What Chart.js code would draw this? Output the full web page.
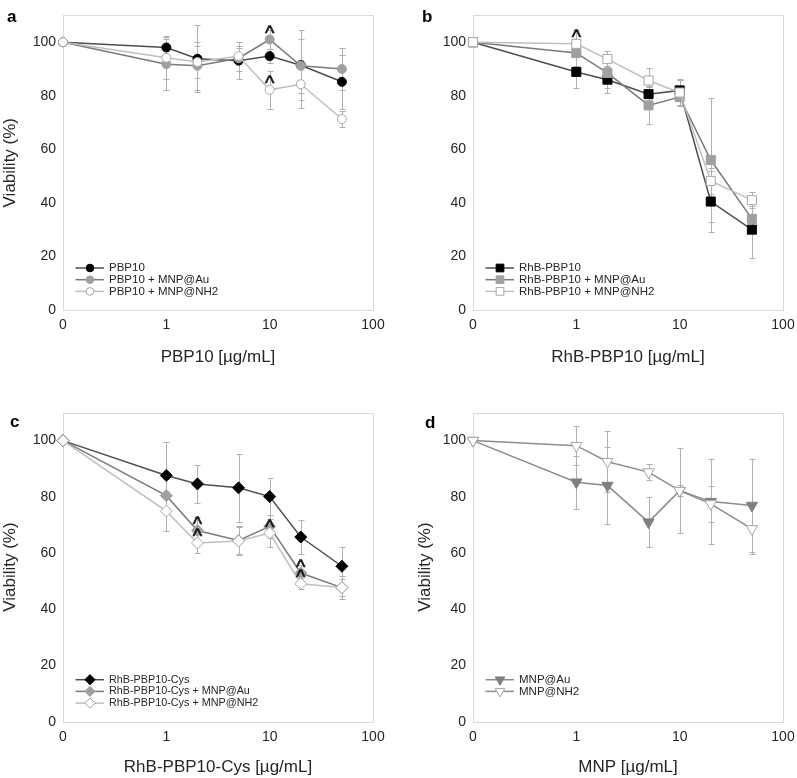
<!DOCTYPE html>
<html>
<head>
<meta charset="utf-8">
<script src="https://cdn.jsdelivr.net/npm/chart.js@4.4.1/dist/chart.umd.min.js"></script>
<style>
  body { margin: 0; background: #fff; width: 797px; height: 778px; position: relative; overflow: hidden; }
  canvas { position: absolute; }
</style>
</head>
<body>
<canvas id="chartA" width="398" height="390" style="left:0;top:0"></canvas>
<canvas id="chartB" width="410" height="390" style="left:398px;top:0"></canvas>
<canvas id="chartC" width="398" height="388" style="left:0;top:390px"></canvas>
<canvas id="chartD" width="410" height="388" style="left:398px;top:390px"></canvas>
<script>
// concentrations (µg/mL), 0 is drawn at the axis start
const concentrations = [0, 1, 2, 5, 10, 20, 50];
const xTicks = [0.1, 1, 10, 100];
const xTickLabels = ['0', '1', '10', '100'];
const yTicks = [0, 20, 40, 60, 80, 100];

// panel a
const pbp10 = [100, 98, 93.8, 93.1, 94.8, 91.4, 85.2];
const pbp10Err = [0, 4, 12.5, 6.8, 2.5, 13, 10];
const pbp10Au = [100, 91.8, 91.2, 94, 101, 91.2, 90];
const pbp10AuErr = [0, 9.5, 9, 4.6, 3.5, 10, 7.7];
const pbp10NH2 = [100, 94.2, 92.6, 94.8, 82.2, 84.3, 71.3];
const pbp10NH2Err = [0, 8, 6, 3, 7, 9, 3];

// panel b
const rhb = [100, 88.9, 86, 80.6, 82, 40.5, 30];
const rhbErr = [0, 6, 5, 3, 4, 11.5, 10.5];
const rhbAu = [100, 96, 88.5, 76.4, 79.5, 56, 34];
const rhbAuErr = [0, 5, 5.5, 7, 3, 23, 5];
const rhbNH2 = [100, 99.4, 93.7, 85.7, 81.2, 48.2, 41];
const rhbNH2Err = [0, 5, 3, 4.8, 5, 5, 3];

// panel c
const cys = [100, 87.6, 84.6, 83.2, 80.1, 65.7, 55.3];
const cysErr = [0, 11.8, 6.7, 12, 6.6, 6, 7];
const cysAu = [100, 80.4, 68, 64.5, 69.5, 52.9, 47.7];
const cysAuErr = [0, 6, 5, 5, 4, 3, 3];
const cysNH2 = [100, 74.9, 63.6, 64.3, 67.1, 49.1, 47.7];
const cysNH2Err = [0, 7, 3.5, 5, 5, 2, 4];

// panel d
const mnpAu = [100, 85.2, 84, 71, 82.2, 78.3, 76.9];
const mnpAuErr = [0, 9.5, 13.6, 9, 15, 15, 16.4];
const mnpNH2 = [100, 98.2, 92.5, 88.8, 82.2, 77.5, 68.6];
const mnpNH2Err = [0, 7, 10.8, 2.9, 2, 6.5, 9];

Chart.defaults.font.family = "'Liberation Sans', Arial, sans-serif";
Chart.defaults.color = '#262626';

const TEXT = '#262626';

// series looks
const black = { fill: '#000000', edge: '#000000', line: '#4d4d4d' };
const grey = { fill: '#a0a0a0', edge: '#a0a0a0', line: '#7a7a7a' };
const white = { fill: '#ffffff', edge: '#a6a6a6', line: '#bfbfbf' };
const darkGrey = { fill: '#808080', edge: '#808080', line: '#8c8c8c' };
const whiteTri = { fill: '#ffffff', edge: '#a6a6a6', line: '#8c8c8c' };

// plot frame + error bars under the lines
const frameAndErrors = {
  id: 'frameAndErrors',
  beforeDatasetsDraw(chart) {
    const { ctx, chartArea: a, scales: { x, y } } = chart;
    ctx.save();
    ctx.strokeStyle = '#d9d9d9';
    ctx.lineWidth = 1;
    ctx.strokeRect(Math.round(a.left) + 0.5, Math.round(a.top) + 0.5,
      Math.round(a.right - a.left), Math.round(a.bottom - a.top));
    ctx.strokeStyle = '#b0b0b0';
    chart.data.datasets.forEach(ds => {
      ds.data.forEach((p, i) => {
        const e = ds.errors[i];
        if (!e) return;
        const px = Math.round(x.getPixelForValue(p.x)) + 0.5;
        const top = Math.round(y.getPixelForValue(p.y + e)) + 0.5;
        const bot = Math.round(y.getPixelForValue(p.y - e)) + 0.5;
        ctx.beginPath();
        ctx.moveTo(px, top); ctx.lineTo(px, bot);
        ctx.moveTo(px - 3, top); ctx.lineTo(px + 3, top);
        ctx.moveTo(px - 3, bot); ctx.lineTo(px + 3, bot);
        ctx.stroke();
      });
    });
    ctx.restore();
  }
};

// "^" significance marks, legend inside the plot, panel letter
const extras = {
  id: 'extras',
  afterDraw(chart, args, opts) {
    const { ctx, chartArea: a, scales: { x, y } } = chart;
    ctx.save();
    ctx.fillStyle = '#1a1a1a';
    ctx.strokeStyle = '#1a1a1a';
    ctx.lineWidth = 0.6;
    ctx.font = "20px 'Liberation Sans', Arial, sans-serif";
    ctx.textAlign = 'center';
    ctx.textBaseline = 'alphabetic';
    opts.marks.forEach(([di, pi]) => {
      const p = chart.data.datasets[di].data[pi];
      const mx = x.getPixelForValue(p.x), my = y.getPixelForValue(p.y) + 0.5;
      ctx.fillText('^', mx, my);
      ctx.strokeText('^', mx, my);
    });

    chart.data.datasets.forEach((ds, i) => {
      const ly = a.bottom - 42 + i * 11.7;
      ctx.strokeStyle = ds.borderColor;
      ctx.lineWidth = ds.borderWidth;
      ctx.beginPath();
      ctx.moveTo(a.left + 12.5, ly);
      ctx.lineTo(a.left + 41, ly);
      ctx.stroke();
      ctx.fillStyle = ds.pointBackgroundColor;
      ctx.strokeStyle = ds.pointBorderColor;
      ctx.lineWidth = 1;
      Chart.helpers.drawPoint(ctx, {
        pointStyle: ds.pointStyle, radius: ds.pointRadius * 0.85,
        rotation: ds.pointRotation || 0, borderWidth: 1
      }, a.left + 27, ly);
      ctx.fillStyle = TEXT;
      ctx.font = opts.legendSize + "px 'Liberation Sans', Arial, sans-serif";
      ctx.textAlign = 'left';
      ctx.textBaseline = 'middle';
      ctx.fillText(ds.label, a.left + 46, ly);
    });

    ctx.fillStyle = '#000';
    ctx.font = "bold 17px 'Liberation Sans', Arial, sans-serif";
    ctx.textAlign = 'left';
    ctx.textBaseline = 'alphabetic';
    ctx.fillText(opts.letter, opts.letterX, opts.letterY);
    ctx.restore();
  }
};

const series = (label, values, errors, look, style, radius, rotation) => ({
  label: label,
  data: concentrations.map((c, i) => ({ x: Math.max(c, 0.1), y: values[i] })),
  errors: errors,
  borderColor: look.line,
  borderWidth: 1.5,
  pointBackgroundColor: look.fill,
  pointBorderColor: look.edge,
  pointBorderWidth: 1,
  pointStyle: style,
  pointRadius: radius,
  pointRotation: rotation || 0,
  clip: false,
  tension: 0
});

const panelChart = (id, p) => {
  p.datasets.forEach((ds, i) => { ds.order = p.datasets.length - i; });
  return new Chart(document.getElementById(id), {
    type: 'line',
    data: { datasets: p.datasets },
    plugins: [frameAndErrors, extras],
    options: {
      responsive: false,
      animation: false,
      devicePixelRatio: 1,
      layout: { padding: { top: p.top, right: p.right, left: 0, bottom: 0 } },
      plugins: {
        legend: { display: false },
        tooltip: { enabled: false },
        extras: {
          marks: p.marks, letter: p.letter, letterX: p.letterX, letterY: p.letterY,
          legendSize: p.legendSize
        }
      },
      scales: {
        x: {
          type: 'logarithmic',
          min: 0.1,
          max: 100,
          afterBuildTicks: s => { s.ticks = xTicks.map(v => ({ value: v })); },
          afterFit: s => { s.height = p.xHeight; },
          ticks: {
            callback: (v, i) => xTickLabels[i],
            padding: 7, autoSkip: false, maxRotation: 0,
            font: { size: 14 }, color: TEXT
          },
          grid: { display: false, drawTicks: false },
          border: { display: false },
          title: {
            display: true, text: p.xTitle, color: TEXT,
            font: { size: 17 }, padding: { top: 0, bottom: p.xTitlePad }
          }
        },
        y: {
          min: 0,
          max: 110,
          afterBuildTicks: s => { s.ticks = yTicks.map(v => ({ value: v })); },
          afterFit: s => { s.width = p.yWidth; },
          ticks: { padding: 7, font: { size: 14 }, color: TEXT },
          grid: { display: false, drawTicks: false },
          border: { display: false },
          title: {
            display: !!p.yTitle, text: p.yTitle || '', color: TEXT,
            font: { size: 17 }, padding: { top: p.yTitlePad || 0, bottom: 0 }
          }
        }
      }
    }
  });
};

panelChart('chartA', {
  datasets: [
    series('PBP10', pbp10, pbp10Err, black, 'circle', 4.5),
    series('PBP10 + MNP@Au', pbp10Au, pbp10AuErr, grey, 'circle', 4.5),
    series('PBP10 + MNP@NH2', pbp10NH2, pbp10NH2Err, white, 'circle', 4.5)
  ],
  marks: [[1, 4], [2, 4]],
  letter: 'a', letterX: 7, letterY: 22, legendSize: 11.5,
  top: 2, right: 25, yWidth: 63, xHeight: 80,
  xTitle: 'PBP10 [µg/mL]', xTitlePad: 22,
  yTitle: 'Viability (%)', yTitlePad: 0
});

panelChart('chartB', {
  datasets: [
    series('RhB-PBP10', rhb, rhbErr, black, 'rect', 6.4),
    series('RhB-PBP10 + MNP@Au', rhbAu, rhbAuErr, grey, 'rect', 6.4),
    series('RhB-PBP10 + MNP@NH2', rhbNH2, rhbNH2Err, white, 'rect', 6.4)
  ],
  marks: [[2, 1]],
  letter: 'b', letterX: 24, letterY: 22, legendSize: 11.5,
  top: 2, right: 25, yWidth: 75, xHeight: 80,
  xTitle: 'RhB-PBP10 [µg/mL]', xTitlePad: 22
});

panelChart('chartC', {
  datasets: [
    series('RhB-PBP10-Cys', cys, cysErr, black, 'rectRot', 6),
    series('RhB-PBP10-Cys + MNP@Au', cysAu, cysAuErr, grey, 'rectRot', 6),
    series('RhB-PBP10-Cys + MNP@NH2', cysNH2, cysNH2Err, white, 'rectRot', 6)
  ],
  marks: [[1, 2], [2, 2], [2, 4], [1, 5], [2, 5]],
  letter: 'c', letterX: 10, letterY: 37, legendSize: 10.8,
  top: 22.5, right: 25, yWidth: 63, xHeight: 56.3,
  xTitle: 'RhB-PBP10-Cys [µg/mL]', xTitlePad: 0,
  yTitle: 'Viability (%)', yTitlePad: 0
});

panelChart('chartD', {
  datasets: [
    series('MNP@Au', mnpAu, mnpAuErr, darkGrey, 'triangle', 6.5, 180),
    series('MNP@NH2', mnpNH2, mnpNH2Err, whiteTri, 'triangle', 6.5, 180)
  ],
  marks: [],
  letter: 'd', letterX: 27, letterY: 38, legendSize: 11.5,
  top: 22.5, right: 25, yWidth: 75, xHeight: 56.3,
  xTitle: 'MNP [µg/mL]', xTitlePad: 0,
  yTitle: 'Viability (%)', yTitlePad: 17
});
</script>
</body>
</html>
